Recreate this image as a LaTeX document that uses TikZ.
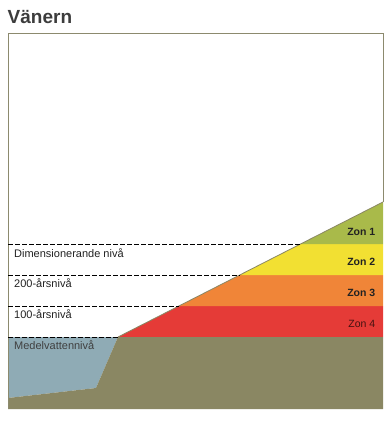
\documentclass[tikz,border=0pt]{standalone}
\usepackage{fontspec}
\setmainfont{Liberation Sans}
\definecolor{frame}{HTML}{8C8A6E}
\definecolor{ground}{HTML}{8A8763}
\definecolor{water}{HTML}{8FABB5}
\definecolor{zfour}{HTML}{E53B37}
\definecolor{zthree}{HTML}{F08538}
\definecolor{ztwo}{HTML}{F2E032}
\definecolor{zone}{HTML}{A9BA4A}
\definecolor{titlec}{HTML}{3C3C3C}
\definecolor{labc}{HTML}{222222}
\tikzset{
  levelline/.style={draw=black, line width=0.8pt, dash pattern=on 4.5pt off 2.5pt},
  levellabel/.style={anchor=west, inner sep=0pt, font=\fontsize{11}{12}\selectfont, text=labc},
  zonelabel/.style={anchor=east, inner sep=0pt, font=\fontsize{10.5}{12}\selectfont\bfseries, text=labc},
}
\begin{document}
\begin{tikzpicture}[x=1pt,y=-1pt]
\useasboundingbox (0,0) rectangle (389,422);
% frame
\fill[white] (8,33) rectangle (383,409);
% slope coordinates
\coordinate (s0) at (118,337);
\coordinate (s1) at (178.9,306);
\coordinate (s2) at (239.7,275);
\coordinate (s3) at (300.6,244);
\coordinate (top) at (383,202);
% zones
\fill[zfour] (s0) -- (s1) -- (383,306) -- (383,337) -- cycle;
\fill[zthree] (s1) -- (s2) -- (383,275) -- (383,306) -- cycle;
\fill[ztwo] (s2) -- (s3) -- (383,244) -- (383,275) -- cycle;
\fill[zone] (s3) -- (top) -- (383,244) -- cycle;
\draw[ground, line width=0.8pt] (s0) -- (top);
% water and ground
\fill[water] (8,337) -- (s0) -- (96,388) -- (8,398) -- cycle;
\fill[ground] (8,398) -- (96,388) -- (s0) -- (383,337) -- (383,409) -- (8,409) -- cycle;
\draw[frame, line width=0.8pt] (8,409) -- (8,33) -- (383,33) -- (383,202);
% level lines
\coordinate (l1) at (8,244);
\coordinate (l2) at (8,275);
\coordinate (l3) at (8,306);
\coordinate (l4) at (8,337);
\draw[levelline] (l1) -- (s3);
\draw[levelline] (l2) -- (s2);
\draw[levelline] (l3) -- (s1);
\draw[levelline] (l4) -- (s0);
% labels
\node[levellabel] (dim) at (14,253) {Dimensionerande nivå};
\node[levellabel] (y200) at (14,283.5) {200-årsnivå};
\node[levellabel] (y100) at (14,314) {100-årsnivå};
\node[levellabel, text=black!75] (mv) at (14,345.5) {Medelvattennivå};
\node[zonelabel] (z1) at (375.5,231.5) {Zon 1};
\node[zonelabel] (z2) at (375.5,261.5) {Zon 2};
\node[zonelabel] (z3) at (375.5,292.5) {Zon 3};
\node[zonelabel, font=\fontsize{10.5}{12}\selectfont, text=black!70!zfour] (z4) at (375.5,323.5) {Zon 4};
% title
\node[anchor=base west, inner sep=0pt, font=\fontsize{19}{22}\selectfont\bfseries, text=titlec] (title) at (7.5,24) {Vänern};
\end{tikzpicture}
\end{document}
